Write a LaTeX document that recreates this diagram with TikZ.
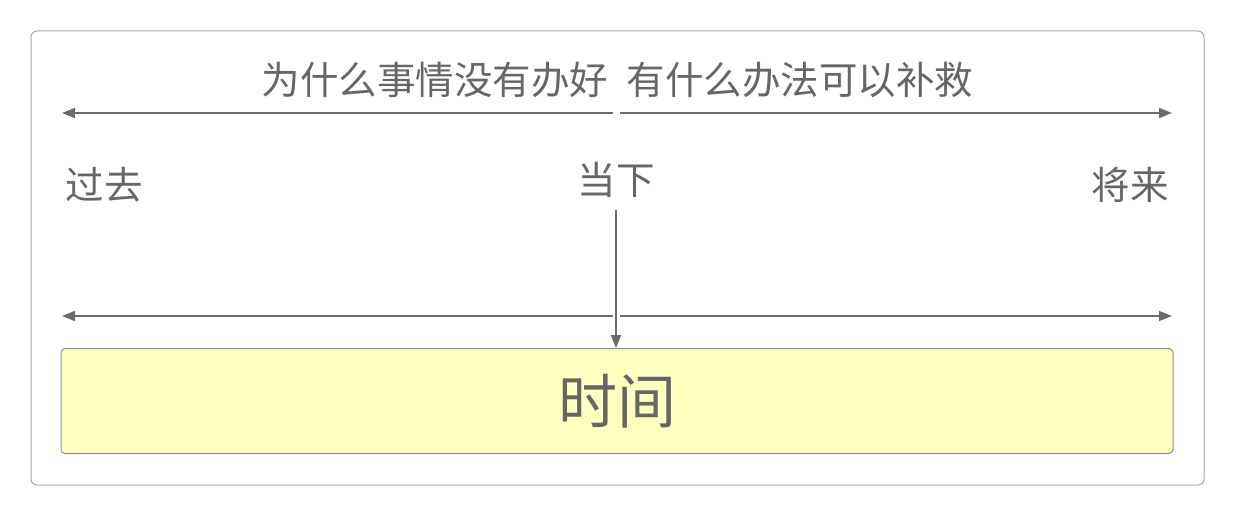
\documentclass[tikz,border=0pt]{standalone}
\usepackage{fontspec}
\setmainfont{Noto Sans CJK SC}
\usetikzlibrary{arrows.meta}
\definecolor{txtgray}{HTML}{666666}
\definecolor{linegray}{HTML}{6B6B6B}
\definecolor{boxyellow}{HTML}{FFFFC0}
\definecolor{boxgray}{HTML}{8C8C8C}
\definecolor{framegray}{HTML}{A8A8A8}
\tikzset{
    timeline/.style={linegray, line width=1.5pt, -{Triangle[length=13pt,width=10pt]}},
    label/.style={text=txtgray, font=\fontsize{38.5}{38.5}\selectfont, inner sep=0pt},
}
\begin{document}
\begin{tikzpicture}[x=1pt, y=-1pt]
        \useasboundingbox (0,0) rectangle (1235,516);
        \draw[framegray, line width=1pt, rounded corners=6pt] (31,31) rectangle (1204,485);

        \node[label] (why) at (435,80) {为什么事情没有办好};
        \node[label] (how) at (800,80) {有什么办法可以补救};

        \node[label] (past) at (104,185) {过去};
        \node[label] (now) at (616,180) {当下};
        \node[label] (future) at (1130,185) {将来};

        \node[draw=boxgray, line width=1pt, fill=boxyellow, rounded corners=4pt, minimum width=1112pt, minimum height=105pt,
              text=txtgray, font=\fontsize{59}{59}\selectfont] (time) at (617,401) {时间};

        \coordinate (upl) at (613,113);
        \coordinate (upr) at (620,113);
        \coordinate (upend-l) at (62,113);
        \coordinate (upend-r) at (1172,113);
        \coordinate (lowl) at (613,316);
        \coordinate (lowr) at (620,316);
        \coordinate (lowend-l) at (62,316);
        \coordinate (lowend-r) at (1172,316);
        \coordinate (nowfoot) at (616,210);

        \draw[timeline] (upl) -- (upend-l);
        \draw[timeline] (upr) -- (upend-r);
        \draw[timeline] (lowl) -- (lowend-l);
        \draw[timeline] (lowr) -- (lowend-r);

        \draw[timeline] (nowfoot) -- (nowfoot |- time.north);
    \end{tikzpicture}
\end{document}
